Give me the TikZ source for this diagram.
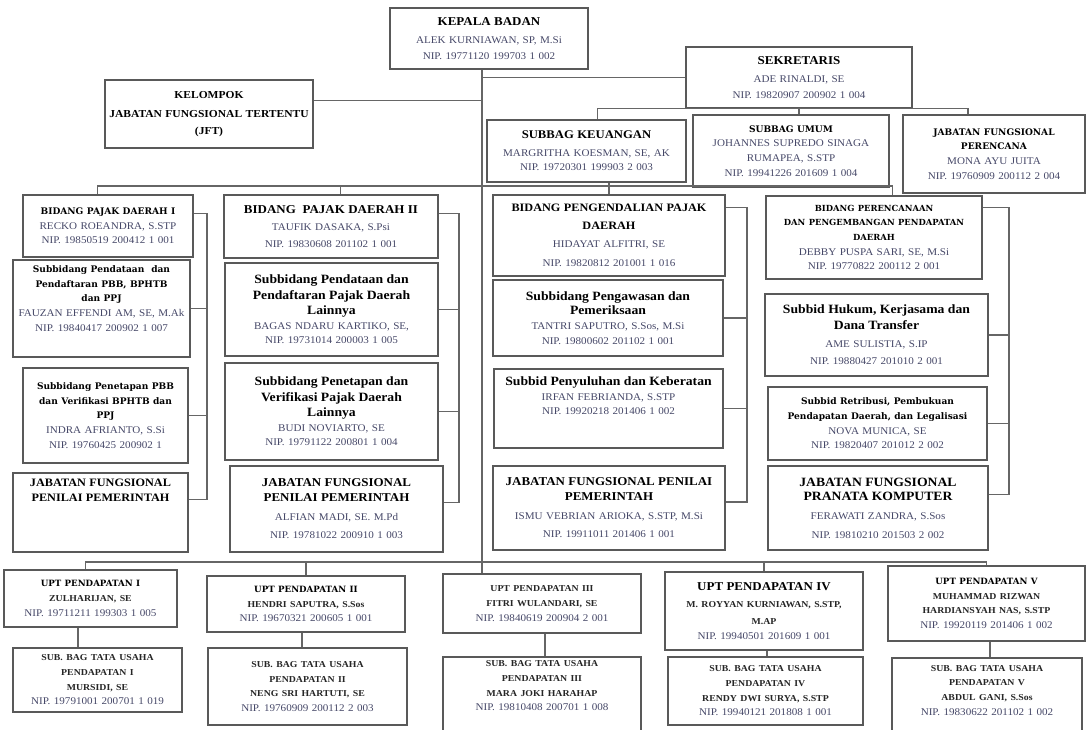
\documentclass[tikz,border=0pt]{standalone}
\usepackage{fontspec}
\setmainfont[FakeStretch=1.08]{Liberation Serif}
\newfontfamily\slabfont{DejaVu Serif}
\definecolor{namecol}{RGB}{70,72,104}
\newcommand\btitle[2][8.5]{{\color{black}\bfseries\fontsize{#1}{12}\selectfont #2}}
\newcommand\stitle[2][6.8]{{\color{black}\slabfont\bfseries\fontsize{#1}{11}\selectfont #2}}
\newcommand\bname[2][6.8]{{\color{black!85}\bfseries\fontsize{#1}{11}\selectfont #2}}

\begin{document}
\begin{tikzpicture}[x=0.75pt,y=-0.75pt,
    box/.style={draw=black!65, line width=0.9pt, fill=white, align=center, inner sep=1pt,
      text=namecol, font=\fontsize{7.7}{11}\selectfont},
    wh/.style 2 args={minimum width=#1*0.75pt, minimum height=#2*0.75pt,
      /utils/exec={\pgfmathsetlengthmacro\boxtw{#1*0.75pt-5pt}}, text width=\boxtw},
    link/.style={draw=black!60, line width=0.8pt}]
  \useasboundingbox (0,0) rectangle (1089,729);
  \clip (0,0) rectangle (1089,729);

  % pimpinan dan sekretariat
  \node[box, wh={198}{61}] (kepala) at (489,38.5) {\btitle[9]{KEPALA BADAN}\\[3pt] ALEK KURNIAWAN, SP, M.Si\\[1pt] NIP. 19771120 199703 1 002};
  \node[box, wh={208}{68}] (jft) at (209,114) {\btitle[8]{KELOMPOK\\[2pt] JABATAN FUNGSIONAL TERTENTU\\[2pt] (JFT)}};
  \node[box, wh={226}{61}] (sekretaris) at (799,77.5) {\btitle[9]{SEKRETARIS}\\[2pt] ADE RINALDI, SE\\[1pt] NIP. 19820907 200902 1 004};
  \node[box, wh={199}{62}] (keuangan) at (586.5,151) {\btitle[8.8]{SUBBAG KEUANGAN}\\[2pt] MARGRITHA KOESMAN, SE, AK\\ NIP. 19720301 199903 2 003};
  \node[box, wh={196}{72}] (umum) at (791,151) {\stitle{SUBBAG UMUM}\\ JOHANNES SUPREDO SINAGA\\ RUMAPEA, S.STP\\ NIP. 19941226 201609 1 004};
  \node[box, wh={182}{78}] (perencana) at (994,154) {\stitle{JABATAN FUNGSIONAL\\ PERENCANA}\\ MONA AYU JUITA\\ NIP. 19760909 200112 2 004};

  % bidang pajak daerah I
  \node[box, wh={170}{62}] (bidA) at (108,226) {\stitle{BIDANG PAJAK DAERAH I}\\ RECKO ROEANDRA, S.STP\\ NIP. 19850519 200412 1 001};
  \node[box, wh={177}{97}] (subA1) at (101.5,308.5) {\stitle{Subbidang Pendataan~ dan\\ Pendaftaran PBB, BPHTB\\ dan PPJ}\\ FAUZAN EFFENDI AM, SE, M.Ak\\ NIP. 19840417 200902 1 007\\[4pt]\mbox{}};
  \node[box, wh={165}{95}] (subA2) at (105.5,415.5) {\stitle{Subbidang Penetapan PBB\\ dan Verifikasi BPHTB dan\\ PPJ}\\ INDRA AFRIANTO, S.Si\\ NIP. 19760425 200902 1};
  \node[box, wh={175}{79}] (jfA) at (100.5,512.5) {\btitle{JABATAN FUNGSIONAL\\ PENILAI PEMERINTAH}\\[22pt]\mbox{}};

  % bidang pajak daerah II
  \node[box, wh={214}{63}] (bidB) at (331,226.5) {\btitle[9]{BIDANG~ PAJAK DAERAH II}\\[2pt] TAUFIK DASAKA, S.Psi\\[2pt] NIP. 19830608 201102 1 001};
  \node[box, wh={213}{93}] (subB1) at (331.5,309.5) {\btitle[9.5]{Subbidang Pendataan dan\\ Pendaftaran Pajak Daerah\\ Lainnya}\\ BAGAS NDARU KARTIKO, SE,\\ NIP. 19731014 200003 1 005};
  \node[box, wh={213}{97}] (subB2) at (331.5,411.5) {\btitle[9.5]{Subbidang Penetapan dan\\ Verifikasi Pajak Daerah\\ Lainnya}\\ BUDI NOVIARTO, SE\\ NIP. 19791122 200801 1 004};
  \node[box, wh={213}{86}] (jfB) at (336.5,509) {\btitle[9]{JABATAN FUNGSIONAL\\ PENILAI PEMERINTAH}\\[3pt] ALFIAN MADI, SE. M.Pd\\[3pt] NIP. 19781022 200910 1 003};

  % bidang pengendalian
  \node[box, wh={232}{81}] (bidC) at (609,235.5) {\btitle[8.5]{BIDANG PENGENDALIAN PAJAK\\[2pt] DAERAH}\\[3pt] HIDAYAT ALFITRI, SE\\[3pt] NIP. 19820812 201001 1 016};
  \node[box, wh={230}{76}] (subC1) at (608,318) {\btitle[9.5]{Subbidang Pengawasan dan\\ Pemeriksaan}\\ TANTRI SAPUTRO, S.Sos, M.Si\\ NIP. 19800602 201102 1 001};
  \node[box, wh={229}{79}] (subC2) at (608.5,408.5) {\btitle[9.5]{Subbid Penyuluhan dan Keberatan}\\ IRFAN FEBRIANDA, S.STP\\ NIP. 19920218 201406 1 002\\[8pt]\mbox{}};
  \node[box, wh={232}{84}] (jfC) at (609,508) {\btitle[9]{JABATAN FUNGSIONAL PENILAI\\ PEMERINTAH}\\[3pt] ISMU VEBRIAN ARIOKA, S.STP, M.Si\\[3pt] NIP. 19911011 201406 1 001};

  % bidang perencanaan
  \node[box, wh={216}{83}] (bidD) at (874,237.5) {\stitle[6.3]{BIDANG PERENCANAAN\\ DAN PENGEMBANGAN PENDAPATAN\\ DAERAH}\\ DEBBY PUSPA SARI, SE, M.Si\\ NIP. 19770822 200112 2 001};
  \node[box, wh={223}{82}] (subD1) at (876.5,335) {\btitle[9.5]{Subbid Hukum, Kerjasama dan\\[1pt] Dana Transfer}\\[2pt] AME SULISTIA, S.IP\\[2pt] NIP. 19880427 201010 2 001};
  \node[box, wh={219}{73}] (subD2) at (877.5,423.5) {\stitle{Subbid Retribusi, Pembukuan\\ Pendapatan Daerah, dan Legalisasi}\\ NOVA MUNICA, SE\\ NIP. 19820407 201012 2 002};
  \node[box, wh={220}{84}] (jfD) at (878,508) {\btitle[9.5]{JABATAN FUNGSIONAL\\ PRANATA KOMPUTER}\\[3pt] FERAWATI ZANDRA, S.Sos\\[3pt] NIP. 19810210 201503 2 002};

  % UPT
  \node[box, wh={173}{57}] (upt1) at (90.5,598.5) {\stitle[6.5]{UPT PENDAPATAN I}\\ \bname{ZULHARIJAN, SE}\\ NIP. 19711211 199303 1 005};
  \node[box, wh={198}{56}] (upt2) at (306,604) {\stitle[6.5]{UPT PENDAPATAN II}\\ \bname{HENDRI SAPUTRA, S.Sos}\\ NIP. 19670321 200605 1 001};
  \node[box, wh={198}{59}] (upt3) at (542,603.5) {\bname{UPT PENDAPATAN III}\\ \bname{FITRI WULANDARI, SE}\\ NIP. 19840619 200904 2 001};
  \node[box, wh={198}{78}] (upt4) at (764,611) {\btitle[9]{UPT PENDAPATAN IV}\\[2pt] \bname{M. ROYYAN KURNIAWAN, S.STP,}\\[2pt] \bname{M.AP}\\ NIP. 19940501 201609 1 001};
  \node[box, wh={197}{75}] (upt5) at (986.5,603.5) {\stitle[6.5]{UPT PENDAPATAN V}\\ \bname{MUHAMMAD RIZWAN}\\ \bname{HARDIANSYAH NAS, S.STP}\\ NIP. 19920119 201406 1 002};

  \node[box, wh={169}{64}] (tu1) at (97.5,680) {\bname{SUB. BAG TATA USAHA\\ PENDAPATAN I\\ MURSIDI, SE}\\ NIP. 19791001 200701 1 019};
  \node[box, wh={199}{77}] (tu2) at (307.5,686.5) {\bname{SUB. BAG TATA USAHA\\ PENDAPATAN II\\ NENG SRI HARTUTI, SE}\\ NIP. 19760909 200112 2 003};
  \node[box, wh={198}{88}] (tu3) at (542,701) {\bname{SUB. BAG TATA USAHA\\ PENDAPATAN III\\ MARA JOKI HARAHAP}\\ NIP. 19810408 200701 1 008\\[12pt]\mbox{}};
  \node[box, wh={195}{68}] (tu4) at (765.5,691) {\bname{SUB. BAG TATA USAHA\\ PENDAPATAN IV\\ RENDY DWI SURYA, S.STP}\\ NIP. 19940121 201808 1 001};
  \node[box, wh={190}{87}] (tu5) at (987,701.5) {\bname{SUB. BAG TATA USAHA\\ PENDAPATAN V\\ ABDUL GANI, S.Sos}\\ NIP. 19830622 201102 1 002\\[6pt]\mbox{}};

  % garis utama
  \coordinate (spine) at (482,0);
  \draw[link] (kepala.south -| spine) -- (upt3.north -| spine);
  \draw[link] (sekretaris.west) -- (sekretaris.west -| spine);
  \coordinate (jftin) at ([yshift=10pt]jft.east);
  \draw[link] (jftin) -- (jftin -| spine);

  % sekretariat
  \coordinate (kdrop) at ([xshift=8pt]keuangan.north);
  \coordinate (pdrop) at ([xshift=-19.5pt]perencana.north);
  \draw[link] (kdrop) |- (sekretaris.south -| pdrop) -- (pdrop);
  \draw[link] (sekretaris.south) -- (umum.north -| sekretaris.south);

  % bidang
  \coordinate (bbar) at (0,186);
  \coordinate (adrop) at ([xshift=-8pt]bidA.north);
  \coordinate (bdrop) at ([xshift=7pt]bidB.north);
  \coordinate (ddrop) at ([xshift=14pt]bidD.north);
  \draw[link] (adrop) |- (bbar -| ddrop) -- (ddrop);
  \draw[link] (bdrop) -- (bbar -| bdrop);
  \draw[link] (keuangan.south -| bidC.north) -- (bidC.north);

  % kurung kanan tiap bidang
  \coordinate (colA) at (207,0);
  \coordinate (colB) at (459,0);
  \coordinate (colC) at (747,0);
  \coordinate (colD) at (1009,0);
  \coordinate (aTop) at ([yshift=-14pt]bidA.north east);
  \coordinate (bTop) at ([yshift=-14pt]bidB.north east);
  \coordinate (cTop) at ([yshift=-10pt]bidC.north east);
  \coordinate (dTop) at ([yshift=-9pt]bidD.north east);
  \coordinate (aEnd) at ([yshift=10pt]jfA.east);
  \coordinate (bEnd) at ([yshift=5pt]jfB.east);
  \coordinate (cEnd) at ([yshift=4.5pt]jfC.east);
  \coordinate (dEnd) at ([yshift=10pt]jfD.east);
  \foreach \t/\c/\e in {aTop/colA/aEnd, bTop/colB/bEnd, cTop/colC/cEnd, dTop/colD/dEnd}
    \draw[link] (\t) -| (\c |- \e) -- (\e);
  \foreach \n/\c in {subA1/colA, subA2/colA, subB1/colB, subB2/colB, subC1/colC, subC2/colC, subD1/colD, subD2/colD}
    \draw[link] (\n.east) -- (\n.east -| \c);

  % UPT
  \coordinate (ubar) at (0,562);
  \coordinate (u1drop) at ([xshift=-3.5pt]upt1.north);
  \draw[link] (u1drop) |- (ubar -| upt5.north) -- (upt5.north);
  \foreach \n in {upt2, upt4}
    \draw[link] (\n.north) -- (ubar -| \n.north);
  \foreach \u/\t/\x in {upt1/tu1/78, upt2/tu2/302, upt3/tu3/545, upt4/tu4/767, upt5/tu5/990}
    \draw[link] (\u.south -| \x,0) -- (\t.north -| \x,0);
\end{tikzpicture}
\end{document}
